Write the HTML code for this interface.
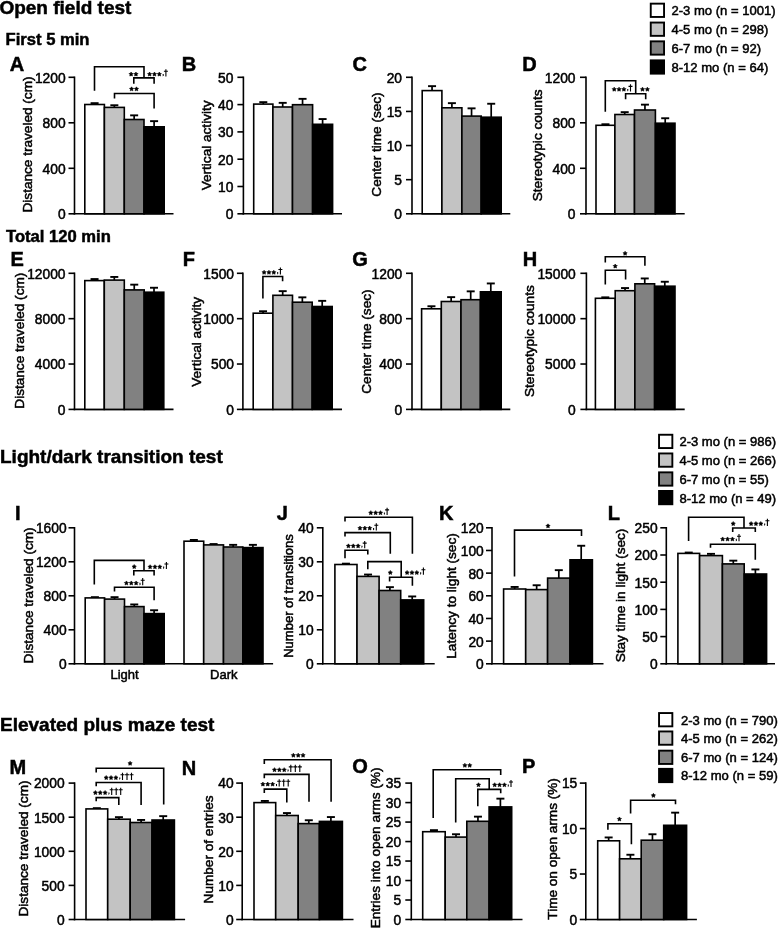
<!DOCTYPE html><html><head><meta charset="utf-8"><style>html,body{margin:0;padding:0;background:#fff;}svg{display:block;will-change:transform;}text{font-family:"Liberation Sans", sans-serif;}</style></head><body>
<svg width="778" height="928" viewBox="0 0 778 928">
<rect width="778" height="928" fill="#fff"/>
<text x="-0.6" y="14.3" font-size="19" font-weight="bold" text-anchor="start" fill="#000" stroke="#000" stroke-width="0.5" >Open field test</text>
<text x="5.6" y="44.8" font-size="16.6" font-weight="bold" text-anchor="start" fill="#000" stroke="#000" stroke-width="0.5" >First 5 min</text>
<text x="6" y="241.5" font-size="16.6" font-weight="bold" text-anchor="start" fill="#000" stroke="#000" stroke-width="0.5" >Total 120 min</text>
<text x="0" y="462.5" font-size="19" font-weight="bold" text-anchor="start" fill="#000" stroke="#000" stroke-width="0.5" >Light/dark transition test</text>
<text x="0" y="730.8" font-size="19" font-weight="bold" text-anchor="start" fill="#000" stroke="#000" stroke-width="0.5" >Elevated plus maze test</text>
<rect x="650.75" y="3.65" width="13.3" height="13.3" fill="#ffffff" stroke="#000" stroke-width="1.9"/>
<text x="671.5" y="15.2" font-size="13.05" font-weight="normal" text-anchor="start" fill="#000" stroke="#000" stroke-width="0.5" >2-3 mo (n = 1001)</text>
<rect x="650.75" y="22.55" width="13.3" height="13.3" fill="#c3c3c3" stroke="#000" stroke-width="1.9"/>
<text x="671.5" y="34.1" font-size="13.05" font-weight="normal" text-anchor="start" fill="#000" stroke="#000" stroke-width="0.5" >4-5 mo (n = 298)</text>
<rect x="650.75" y="41.35" width="13.3" height="13.3" fill="#818181" stroke="#000" stroke-width="1.9"/>
<text x="671.5" y="52.9" font-size="13.05" font-weight="normal" text-anchor="start" fill="#000" stroke="#000" stroke-width="0.5" >6-7 mo (n = 92)</text>
<rect x="650.75" y="60.35" width="13.3" height="13.3" fill="#000000" stroke="#000" stroke-width="1.9"/>
<text x="671.5" y="71.9" font-size="13.05" font-weight="normal" text-anchor="start" fill="#000" stroke="#000" stroke-width="0.5" >8-12 mo (n = 64)</text>
<rect x="659.05" y="434.75" width="13.3" height="13.3" fill="#ffffff" stroke="#000" stroke-width="1.9"/>
<text x="679.4" y="446.3" font-size="13.05" font-weight="normal" text-anchor="start" fill="#000" stroke="#000" stroke-width="0.5" >2-3 mo (n = 986)</text>
<rect x="659.05" y="453.45" width="13.3" height="13.3" fill="#c3c3c3" stroke="#000" stroke-width="1.9"/>
<text x="679.4" y="465" font-size="13.05" font-weight="normal" text-anchor="start" fill="#000" stroke="#000" stroke-width="0.5" >4-5 mo (n = 266)</text>
<rect x="659.05" y="472.35" width="13.3" height="13.3" fill="#818181" stroke="#000" stroke-width="1.9"/>
<text x="679.4" y="483.9" font-size="13.05" font-weight="normal" text-anchor="start" fill="#000" stroke="#000" stroke-width="0.5" >6-7 mo (n = 55)</text>
<rect x="659.05" y="490.95" width="13.3" height="13.3" fill="#000000" stroke="#000" stroke-width="1.9"/>
<text x="679.4" y="502.5" font-size="13.05" font-weight="normal" text-anchor="start" fill="#000" stroke="#000" stroke-width="0.5" >8-12 mo (n = 49)</text>
<rect x="659.05" y="713.05" width="13.3" height="13.3" fill="#ffffff" stroke="#000" stroke-width="1.9"/>
<text x="681" y="724.6" font-size="13.05" font-weight="normal" text-anchor="start" fill="#000" stroke="#000" stroke-width="0.5" >2-3 mo (n = 790)</text>
<rect x="659.05" y="731.45" width="13.3" height="13.3" fill="#c3c3c3" stroke="#000" stroke-width="1.9"/>
<text x="681" y="743" font-size="13.05" font-weight="normal" text-anchor="start" fill="#000" stroke="#000" stroke-width="0.5" >4-5 mo (n = 262)</text>
<rect x="659.05" y="750.65" width="13.3" height="13.3" fill="#818181" stroke="#000" stroke-width="1.9"/>
<text x="681" y="762.2" font-size="13.05" font-weight="normal" text-anchor="start" fill="#000" stroke="#000" stroke-width="0.5" >6-7 mo (n = 124)</text>
<rect x="659.05" y="768.85" width="13.3" height="13.3" fill="#000000" stroke="#000" stroke-width="1.9"/>
<text x="681" y="780.4" font-size="13.05" font-weight="normal" text-anchor="start" fill="#000" stroke="#000" stroke-width="0.5" >8-12 mo (n = 59)</text>
<text x="9.8" y="70.6" font-size="20" font-weight="bold" text-anchor="start" fill="#000" stroke="#000" stroke-width="0.5" >A</text>
<line x1="74.5" y1="76.5" x2="74.5" y2="214.6" stroke="#000" stroke-width="1.6"/>
<line x1="73.7" y1="213.8" x2="173.5" y2="213.8" stroke="#000" stroke-width="1.6"/>
<line x1="68.5" y1="213.8" x2="74.5" y2="213.8" stroke="#000" stroke-width="1.6"/>
<text x="65.6" y="219.17" font-size="13.8" font-weight="normal" text-anchor="end" fill="#000" stroke="#000" stroke-width="0.5" >0</text>
<line x1="68.5" y1="168.3" x2="74.5" y2="168.3" stroke="#000" stroke-width="1.6"/>
<text x="65.6" y="173.67" font-size="13.8" font-weight="normal" text-anchor="end" fill="#000" stroke="#000" stroke-width="0.5" >400</text>
<line x1="68.5" y1="122.8" x2="74.5" y2="122.8" stroke="#000" stroke-width="1.6"/>
<text x="65.6" y="128.17" font-size="13.8" font-weight="normal" text-anchor="end" fill="#000" stroke="#000" stroke-width="0.5" >800</text>
<line x1="68.5" y1="77.3" x2="74.5" y2="77.3" stroke="#000" stroke-width="1.6"/>
<text x="65.6" y="82.67" font-size="13.8" font-weight="normal" text-anchor="end" fill="#000" stroke="#000" stroke-width="0.5" >1200</text>
<text x="0" y="0" font-size="13.6" text-anchor="middle" stroke="#000" stroke-width="0.5" transform="translate(31.67,144.5) rotate(-90)">Distance traveled (cm)</text>
<line x1="94.6" y1="104.5" x2="94.6" y2="103.15" stroke="#000" stroke-width="1.7"/>
<line x1="90.6" y1="103.15" x2="98.6" y2="103.15" stroke="#000" stroke-width="1.9"/>
<rect x="84.8" y="104.5" width="19.6" height="109.3" fill="#ffffff" stroke="#000" stroke-width="1.6"/>
<line x1="114.35" y1="107.4" x2="114.35" y2="105.25" stroke="#000" stroke-width="1.7"/>
<line x1="110.35" y1="105.25" x2="118.35" y2="105.25" stroke="#000" stroke-width="1.9"/>
<rect x="104.4" y="107.4" width="19.9" height="106.4" fill="#c3c3c3" stroke="#000" stroke-width="1.6"/>
<line x1="134.15" y1="119.5" x2="134.15" y2="115.35" stroke="#000" stroke-width="1.7"/>
<line x1="130.15" y1="115.35" x2="138.15" y2="115.35" stroke="#000" stroke-width="1.9"/>
<rect x="124.3" y="119.5" width="19.7" height="94.3" fill="#818181" stroke="#000" stroke-width="1.6"/>
<line x1="154.1" y1="126.8" x2="154.1" y2="121.15" stroke="#000" stroke-width="1.7"/>
<line x1="150.1" y1="121.15" x2="158.1" y2="121.15" stroke="#000" stroke-width="1.9"/>
<rect x="144" y="126.8" width="20.2" height="87" fill="#000000" stroke="#000" stroke-width="1.6"/>
<polyline points="94.5,90.7 94.5,66.7 144,66.7 144,77.9" fill="none" stroke="#000" stroke-width="1.6" stroke-linejoin="miter" stroke-linecap="butt"/>
<polyline points="133.8,83.7 133.8,77.9 154.1,77.9 154.1,83.7" fill="none" stroke="#000" stroke-width="1.6" stroke-linejoin="miter" stroke-linecap="butt"/>
<polyline points="114.5,98.4 114.5,93.5 154.1,93.5 154.1,108.6" fill="none" stroke="#000" stroke-width="1.6" stroke-linejoin="miter" stroke-linecap="butt"/>
<polygon points="131.1,72.05 131.78,73.32 133.19,73.57 132.19,74.61 132.39,76.03 131.1,75.4 129.81,76.03 130.01,74.61 129.01,73.57 130.42,73.32" fill="#000" stroke="#000" stroke-width="0.6" stroke-linejoin="round"/>
<polygon points="135.95,72.05 136.63,73.32 138.04,73.57 137.04,74.61 137.24,76.03 135.95,75.4 134.66,76.03 134.86,74.61 133.86,73.57 135.27,73.32" fill="#000" stroke="#000" stroke-width="0.6" stroke-linejoin="round"/>
<polygon points="149.6,72.05 150.28,73.32 151.69,73.57 150.69,74.61 150.89,76.03 149.6,75.4 148.31,76.03 148.51,74.61 147.51,73.57 148.92,73.32" fill="#000" stroke="#000" stroke-width="0.6" stroke-linejoin="round"/>
<polygon points="154.45,72.05 155.13,73.32 156.54,73.57 155.54,74.61 155.74,76.03 154.45,75.4 153.16,76.03 153.36,74.61 152.36,73.57 153.77,73.32" fill="#000" stroke="#000" stroke-width="0.6" stroke-linejoin="round"/>
<polygon points="159.3,72.05 159.98,73.32 161.39,73.57 160.39,74.61 160.59,76.03 159.3,75.4 158.01,76.03 158.21,74.61 157.21,73.57 158.62,73.32" fill="#000" stroke="#000" stroke-width="0.6" stroke-linejoin="round"/>
<path d="M162.6,73.9h1.1v1.4l-0.9,1.2z" fill="#000"/>
<path d="M165.9,69.2V76.4M163.9,71.3H167.9" stroke="#000" stroke-width="1.1" fill="none"/>
<polygon points="131.6,86.85 132.28,88.12 133.69,88.37 132.69,89.41 132.89,90.83 131.6,90.2 130.31,90.83 130.51,89.41 129.51,88.37 130.92,88.12" fill="#000" stroke="#000" stroke-width="0.6" stroke-linejoin="round"/>
<polygon points="136.45,86.85 137.13,88.12 138.54,88.37 137.54,89.41 137.74,90.83 136.45,90.2 135.16,90.83 135.36,89.41 134.36,88.37 135.77,88.12" fill="#000" stroke="#000" stroke-width="0.6" stroke-linejoin="round"/>
<text x="181.8" y="70.6" font-size="20" font-weight="bold" text-anchor="start" fill="#000" stroke="#000" stroke-width="0.5" >B</text>
<line x1="243.4" y1="76.5" x2="243.4" y2="214.6" stroke="#000" stroke-width="1.6"/>
<line x1="242.6" y1="213.8" x2="342" y2="213.8" stroke="#000" stroke-width="1.6"/>
<line x1="237.4" y1="213.8" x2="243.4" y2="213.8" stroke="#000" stroke-width="1.6"/>
<text x="233.4" y="219.17" font-size="13.8" font-weight="normal" text-anchor="end" fill="#000" stroke="#000" stroke-width="0.5" >0</text>
<line x1="237.4" y1="186.5" x2="243.4" y2="186.5" stroke="#000" stroke-width="1.6"/>
<text x="233.4" y="191.87" font-size="13.8" font-weight="normal" text-anchor="end" fill="#000" stroke="#000" stroke-width="0.5" >10</text>
<line x1="237.4" y1="159.2" x2="243.4" y2="159.2" stroke="#000" stroke-width="1.6"/>
<text x="233.4" y="164.57" font-size="13.8" font-weight="normal" text-anchor="end" fill="#000" stroke="#000" stroke-width="0.5" >20</text>
<line x1="237.4" y1="131.9" x2="243.4" y2="131.9" stroke="#000" stroke-width="1.6"/>
<text x="233.4" y="137.27" font-size="13.8" font-weight="normal" text-anchor="end" fill="#000" stroke="#000" stroke-width="0.5" >30</text>
<line x1="237.4" y1="104.6" x2="243.4" y2="104.6" stroke="#000" stroke-width="1.6"/>
<text x="233.4" y="109.97" font-size="13.8" font-weight="normal" text-anchor="end" fill="#000" stroke="#000" stroke-width="0.5" >40</text>
<line x1="237.4" y1="77.3" x2="243.4" y2="77.3" stroke="#000" stroke-width="1.6"/>
<text x="233.4" y="82.67" font-size="13.8" font-weight="normal" text-anchor="end" fill="#000" stroke="#000" stroke-width="0.5" >50</text>
<text x="0" y="0" font-size="13.6" text-anchor="middle" stroke="#000" stroke-width="0.5" transform="translate(211.47,145.4) rotate(-90)">Vertical activity</text>
<line x1="263.3" y1="104.1" x2="263.3" y2="102.15" stroke="#000" stroke-width="1.7"/>
<line x1="259.3" y1="102.15" x2="267.3" y2="102.15" stroke="#000" stroke-width="1.9"/>
<rect x="253.7" y="104.1" width="19.2" height="109.7" fill="#ffffff" stroke="#000" stroke-width="1.6"/>
<line x1="282.7" y1="107" x2="282.7" y2="102.85" stroke="#000" stroke-width="1.7"/>
<line x1="278.7" y1="102.85" x2="286.7" y2="102.85" stroke="#000" stroke-width="1.9"/>
<rect x="272.9" y="107" width="19.6" height="106.8" fill="#c3c3c3" stroke="#000" stroke-width="1.6"/>
<line x1="302.55" y1="104.7" x2="302.55" y2="98.85" stroke="#000" stroke-width="1.7"/>
<line x1="298.55" y1="98.85" x2="306.55" y2="98.85" stroke="#000" stroke-width="1.9"/>
<rect x="292.5" y="104.7" width="20.1" height="109.1" fill="#818181" stroke="#000" stroke-width="1.6"/>
<line x1="322.6" y1="124.3" x2="322.6" y2="119.05" stroke="#000" stroke-width="1.7"/>
<line x1="318.6" y1="119.05" x2="326.6" y2="119.05" stroke="#000" stroke-width="1.9"/>
<rect x="312.6" y="124.3" width="20" height="89.5" fill="#000000" stroke="#000" stroke-width="1.6"/>
<text x="352.4" y="70.6" font-size="20" font-weight="bold" text-anchor="start" fill="#000" stroke="#000" stroke-width="0.5" >C</text>
<line x1="412" y1="76.5" x2="412" y2="214.6" stroke="#000" stroke-width="1.6"/>
<line x1="411.2" y1="213.8" x2="510.3" y2="213.8" stroke="#000" stroke-width="1.6"/>
<line x1="406" y1="213.8" x2="412" y2="213.8" stroke="#000" stroke-width="1.6"/>
<text x="402" y="219.17" font-size="13.8" font-weight="normal" text-anchor="end" fill="#000" stroke="#000" stroke-width="0.5" >0</text>
<line x1="406" y1="179.68" x2="412" y2="179.68" stroke="#000" stroke-width="1.6"/>
<text x="402" y="185.04" font-size="13.8" font-weight="normal" text-anchor="end" fill="#000" stroke="#000" stroke-width="0.5" >5</text>
<line x1="406" y1="145.55" x2="412" y2="145.55" stroke="#000" stroke-width="1.6"/>
<text x="402" y="150.92" font-size="13.8" font-weight="normal" text-anchor="end" fill="#000" stroke="#000" stroke-width="0.5" >10</text>
<line x1="406" y1="111.43" x2="412" y2="111.43" stroke="#000" stroke-width="1.6"/>
<text x="402" y="116.79" font-size="13.8" font-weight="normal" text-anchor="end" fill="#000" stroke="#000" stroke-width="0.5" >15</text>
<line x1="406" y1="77.3" x2="412" y2="77.3" stroke="#000" stroke-width="1.6"/>
<text x="402" y="82.67" font-size="13.8" font-weight="normal" text-anchor="end" fill="#000" stroke="#000" stroke-width="0.5" >20</text>
<text x="0" y="0" font-size="13.6" text-anchor="middle" stroke="#000" stroke-width="0.5" transform="translate(381.47,144.5) rotate(-90)">Center time (sec)</text>
<line x1="432.05" y1="90.6" x2="432.05" y2="86.15" stroke="#000" stroke-width="1.7"/>
<line x1="428.05" y1="86.15" x2="436.05" y2="86.15" stroke="#000" stroke-width="1.9"/>
<rect x="422.2" y="90.6" width="19.7" height="123.2" fill="#ffffff" stroke="#000" stroke-width="1.6"/>
<line x1="451.9" y1="107.8" x2="451.9" y2="103.15" stroke="#000" stroke-width="1.7"/>
<line x1="447.9" y1="103.15" x2="455.9" y2="103.15" stroke="#000" stroke-width="1.9"/>
<rect x="441.9" y="107.8" width="20" height="106" fill="#c3c3c3" stroke="#000" stroke-width="1.6"/>
<line x1="471.55" y1="116.1" x2="471.55" y2="108.35" stroke="#000" stroke-width="1.7"/>
<line x1="467.55" y1="108.35" x2="475.55" y2="108.35" stroke="#000" stroke-width="1.9"/>
<rect x="461.9" y="116.1" width="19.3" height="97.7" fill="#818181" stroke="#000" stroke-width="1.6"/>
<line x1="491.2" y1="117.2" x2="491.2" y2="103.75" stroke="#000" stroke-width="1.7"/>
<line x1="487.2" y1="103.75" x2="495.2" y2="103.75" stroke="#000" stroke-width="1.9"/>
<rect x="481.2" y="117.2" width="20" height="96.6" fill="#000000" stroke="#000" stroke-width="1.6"/>
<text x="522.3" y="70.6" font-size="20" font-weight="bold" text-anchor="start" fill="#000" stroke="#000" stroke-width="0.5" >D</text>
<line x1="586" y1="76.5" x2="586" y2="214.6" stroke="#000" stroke-width="1.6"/>
<line x1="585.2" y1="213.8" x2="684.7" y2="213.8" stroke="#000" stroke-width="1.6"/>
<line x1="580" y1="213.8" x2="586" y2="213.8" stroke="#000" stroke-width="1.6"/>
<text x="575.5" y="219.17" font-size="13.8" font-weight="normal" text-anchor="end" fill="#000" stroke="#000" stroke-width="0.5" >0</text>
<line x1="580" y1="168.3" x2="586" y2="168.3" stroke="#000" stroke-width="1.6"/>
<text x="575.5" y="173.67" font-size="13.8" font-weight="normal" text-anchor="end" fill="#000" stroke="#000" stroke-width="0.5" >400</text>
<line x1="580" y1="122.8" x2="586" y2="122.8" stroke="#000" stroke-width="1.6"/>
<text x="575.5" y="128.17" font-size="13.8" font-weight="normal" text-anchor="end" fill="#000" stroke="#000" stroke-width="0.5" >800</text>
<line x1="580" y1="77.3" x2="586" y2="77.3" stroke="#000" stroke-width="1.6"/>
<text x="575.5" y="82.67" font-size="13.8" font-weight="normal" text-anchor="end" fill="#000" stroke="#000" stroke-width="0.5" >1200</text>
<text x="0" y="0" font-size="13.6" text-anchor="middle" stroke="#000" stroke-width="0.5" transform="translate(541.67,145.4) rotate(-90)">Stereotypic counts</text>
<line x1="605.45" y1="125.3" x2="605.45" y2="124.25" stroke="#000" stroke-width="1.7"/>
<line x1="601.45" y1="124.25" x2="609.45" y2="124.25" stroke="#000" stroke-width="1.9"/>
<rect x="596" y="125.3" width="18.9" height="88.5" fill="#ffffff" stroke="#000" stroke-width="1.6"/>
<line x1="624.7" y1="114.5" x2="624.7" y2="112.15" stroke="#000" stroke-width="1.7"/>
<line x1="620.7" y1="112.15" x2="628.7" y2="112.15" stroke="#000" stroke-width="1.9"/>
<rect x="614.9" y="114.5" width="19.6" height="99.3" fill="#c3c3c3" stroke="#000" stroke-width="1.6"/>
<line x1="644.95" y1="110" x2="644.95" y2="104.65" stroke="#000" stroke-width="1.7"/>
<line x1="640.95" y1="104.65" x2="648.95" y2="104.65" stroke="#000" stroke-width="1.9"/>
<rect x="634.5" y="110" width="20.9" height="103.8" fill="#818181" stroke="#000" stroke-width="1.6"/>
<line x1="665.2" y1="123.2" x2="665.2" y2="118.25" stroke="#000" stroke-width="1.7"/>
<line x1="661.2" y1="118.25" x2="669.2" y2="118.25" stroke="#000" stroke-width="1.9"/>
<rect x="655.4" y="123.2" width="19.6" height="90.6" fill="#000000" stroke="#000" stroke-width="1.6"/>
<polyline points="605.3,111.8 605.3,80.8 635.7,80.8 635.7,93.8" fill="none" stroke="#000" stroke-width="1.6" stroke-linejoin="miter" stroke-linecap="butt"/>
<polyline points="625.6,99.2 625.6,93.8 645.7,93.8 645.7,99.2" fill="none" stroke="#000" stroke-width="1.6" stroke-linejoin="miter" stroke-linecap="butt"/>
<polygon points="614.2,87.15 614.88,88.42 616.29,88.67 615.29,89.71 615.49,91.13 614.2,90.5 612.91,91.13 613.11,89.71 612.11,88.67 613.52,88.42" fill="#000" stroke="#000" stroke-width="0.6" stroke-linejoin="round"/>
<polygon points="619.05,87.15 619.73,88.42 621.14,88.67 620.14,89.71 620.34,91.13 619.05,90.5 617.76,91.13 617.96,89.71 616.96,88.67 618.37,88.42" fill="#000" stroke="#000" stroke-width="0.6" stroke-linejoin="round"/>
<polygon points="623.9,87.15 624.58,88.42 625.99,88.67 624.99,89.71 625.19,91.13 623.9,90.5 622.61,91.13 622.81,89.71 621.81,88.67 623.22,88.42" fill="#000" stroke="#000" stroke-width="0.6" stroke-linejoin="round"/>
<path d="M627.2,89h1.1v1.4l-0.9,1.2z" fill="#000"/>
<path d="M630.5,84.3V91.5M628.5,86.4H632.5" stroke="#000" stroke-width="1.1" fill="none"/>
<polygon points="642.5,87.15 643.18,88.42 644.59,88.67 643.59,89.71 643.79,91.13 642.5,90.5 641.21,91.13 641.41,89.71 640.41,88.67 641.82,88.42" fill="#000" stroke="#000" stroke-width="0.6" stroke-linejoin="round"/>
<polygon points="647.35,87.15 648.03,88.42 649.44,88.67 648.44,89.71 648.64,91.13 647.35,90.5 646.06,91.13 646.26,89.71 645.26,88.67 646.67,88.42" fill="#000" stroke="#000" stroke-width="0.6" stroke-linejoin="round"/>
<text x="10.6" y="265.6" font-size="20" font-weight="bold" text-anchor="start" fill="#000" stroke="#000" stroke-width="0.5" >E</text>
<line x1="74.5" y1="272.5" x2="74.5" y2="410.2" stroke="#000" stroke-width="1.6"/>
<line x1="73.7" y1="409.4" x2="173.5" y2="409.4" stroke="#000" stroke-width="1.6"/>
<line x1="68.5" y1="409.4" x2="74.5" y2="409.4" stroke="#000" stroke-width="1.6"/>
<text x="65.5" y="414.77" font-size="13.8" font-weight="normal" text-anchor="end" fill="#000" stroke="#000" stroke-width="0.5" >0</text>
<line x1="68.5" y1="364.03" x2="74.5" y2="364.03" stroke="#000" stroke-width="1.6"/>
<text x="65.5" y="369.4" font-size="13.8" font-weight="normal" text-anchor="end" fill="#000" stroke="#000" stroke-width="0.5" >4000</text>
<line x1="68.5" y1="318.67" x2="74.5" y2="318.67" stroke="#000" stroke-width="1.6"/>
<text x="65.5" y="324.03" font-size="13.8" font-weight="normal" text-anchor="end" fill="#000" stroke="#000" stroke-width="0.5" >8000</text>
<line x1="68.5" y1="273.3" x2="74.5" y2="273.3" stroke="#000" stroke-width="1.6"/>
<text x="65.5" y="278.67" font-size="13.8" font-weight="normal" text-anchor="end" fill="#000" stroke="#000" stroke-width="0.5" >12000</text>
<text x="0" y="0" font-size="13.6" text-anchor="middle" stroke="#000" stroke-width="0.5" transform="translate(24.37,340.7) rotate(-90)">Distance traveled (cm)</text>
<line x1="94.55" y1="280.6" x2="94.55" y2="279.05" stroke="#000" stroke-width="1.7"/>
<line x1="90.55" y1="279.05" x2="98.55" y2="279.05" stroke="#000" stroke-width="1.9"/>
<rect x="84.8" y="280.6" width="19.5" height="128.8" fill="#ffffff" stroke="#000" stroke-width="1.6"/>
<line x1="114.3" y1="280.1" x2="114.3" y2="276.95" stroke="#000" stroke-width="1.7"/>
<line x1="110.3" y1="276.95" x2="118.3" y2="276.95" stroke="#000" stroke-width="1.9"/>
<rect x="104.3" y="280.1" width="20" height="129.3" fill="#c3c3c3" stroke="#000" stroke-width="1.6"/>
<line x1="134.25" y1="289.9" x2="134.25" y2="284.65" stroke="#000" stroke-width="1.7"/>
<line x1="130.25" y1="284.65" x2="138.25" y2="284.65" stroke="#000" stroke-width="1.9"/>
<rect x="124.3" y="289.9" width="19.9" height="119.5" fill="#818181" stroke="#000" stroke-width="1.6"/>
<line x1="154" y1="292.2" x2="154" y2="287.75" stroke="#000" stroke-width="1.7"/>
<line x1="150" y1="287.75" x2="158" y2="287.75" stroke="#000" stroke-width="1.9"/>
<rect x="144.2" y="292.2" width="19.6" height="117.2" fill="#000000" stroke="#000" stroke-width="1.6"/>
<text x="182.8" y="265.6" font-size="20" font-weight="bold" text-anchor="start" fill="#000" stroke="#000" stroke-width="0.5" >F</text>
<line x1="242.9" y1="272.5" x2="242.9" y2="410.2" stroke="#000" stroke-width="1.6"/>
<line x1="242.1" y1="409.4" x2="342" y2="409.4" stroke="#000" stroke-width="1.6"/>
<line x1="236.9" y1="409.4" x2="242.9" y2="409.4" stroke="#000" stroke-width="1.6"/>
<text x="234" y="414.77" font-size="13.8" font-weight="normal" text-anchor="end" fill="#000" stroke="#000" stroke-width="0.5" >0</text>
<line x1="236.9" y1="364.03" x2="242.9" y2="364.03" stroke="#000" stroke-width="1.6"/>
<text x="234" y="369.4" font-size="13.8" font-weight="normal" text-anchor="end" fill="#000" stroke="#000" stroke-width="0.5" >500</text>
<line x1="236.9" y1="318.67" x2="242.9" y2="318.67" stroke="#000" stroke-width="1.6"/>
<text x="234" y="324.03" font-size="13.8" font-weight="normal" text-anchor="end" fill="#000" stroke="#000" stroke-width="0.5" >1000</text>
<line x1="236.9" y1="273.3" x2="242.9" y2="273.3" stroke="#000" stroke-width="1.6"/>
<text x="234" y="278.67" font-size="13.8" font-weight="normal" text-anchor="end" fill="#000" stroke="#000" stroke-width="0.5" >1500</text>
<text x="0" y="0" font-size="13.6" text-anchor="middle" stroke="#000" stroke-width="0.5" transform="translate(201.07,341.8) rotate(-90)">Vertical activity</text>
<line x1="263.05" y1="313.2" x2="263.05" y2="311.25" stroke="#000" stroke-width="1.7"/>
<line x1="259.05" y1="311.25" x2="267.05" y2="311.25" stroke="#000" stroke-width="1.9"/>
<rect x="253.2" y="313.2" width="19.7" height="96.2" fill="#ffffff" stroke="#000" stroke-width="1.6"/>
<line x1="282.7" y1="295.3" x2="282.7" y2="291.15" stroke="#000" stroke-width="1.7"/>
<line x1="278.7" y1="291.15" x2="286.7" y2="291.15" stroke="#000" stroke-width="1.9"/>
<rect x="272.9" y="295.3" width="19.6" height="114.1" fill="#c3c3c3" stroke="#000" stroke-width="1.6"/>
<line x1="302.35" y1="302.2" x2="302.35" y2="297.35" stroke="#000" stroke-width="1.7"/>
<line x1="298.35" y1="297.35" x2="306.35" y2="297.35" stroke="#000" stroke-width="1.9"/>
<rect x="292.5" y="302.2" width="19.7" height="107.2" fill="#818181" stroke="#000" stroke-width="1.6"/>
<line x1="322.2" y1="306.5" x2="322.2" y2="300.85" stroke="#000" stroke-width="1.7"/>
<line x1="318.2" y1="300.85" x2="326.2" y2="300.85" stroke="#000" stroke-width="1.9"/>
<rect x="312.2" y="306.5" width="20" height="102.9" fill="#000000" stroke="#000" stroke-width="1.6"/>
<polyline points="262.9,298.6 262.9,276.5 282.6,276.5 282.6,281.3" fill="none" stroke="#000" stroke-width="1.6" stroke-linejoin="miter" stroke-linecap="butt"/>
<polygon points="264.1,270.25 264.78,271.52 266.19,271.77 265.19,272.81 265.39,274.23 264.1,273.6 262.81,274.23 263.01,272.81 262.01,271.77 263.42,271.52" fill="#000" stroke="#000" stroke-width="0.6" stroke-linejoin="round"/>
<polygon points="268.95,270.25 269.63,271.52 271.04,271.77 270.04,272.81 270.24,274.23 268.95,273.6 267.66,274.23 267.86,272.81 266.86,271.77 268.27,271.52" fill="#000" stroke="#000" stroke-width="0.6" stroke-linejoin="round"/>
<polygon points="273.8,270.25 274.48,271.52 275.89,271.77 274.89,272.81 275.09,274.23 273.8,273.6 272.51,274.23 272.71,272.81 271.71,271.77 273.12,271.52" fill="#000" stroke="#000" stroke-width="0.6" stroke-linejoin="round"/>
<path d="M277.1,272.1h1.1v1.4l-0.9,1.2z" fill="#000"/>
<path d="M280.4,267.4V274.6M278.4,269.5H282.4" stroke="#000" stroke-width="1.1" fill="none"/>
<text x="352.2" y="265.6" font-size="20" font-weight="bold" text-anchor="start" fill="#000" stroke="#000" stroke-width="0.5" >G</text>
<line x1="412" y1="272.5" x2="412" y2="410.2" stroke="#000" stroke-width="1.6"/>
<line x1="411.2" y1="409.4" x2="510.3" y2="409.4" stroke="#000" stroke-width="1.6"/>
<line x1="406" y1="409.4" x2="412" y2="409.4" stroke="#000" stroke-width="1.6"/>
<text x="402.3" y="414.77" font-size="13.8" font-weight="normal" text-anchor="end" fill="#000" stroke="#000" stroke-width="0.5" >0</text>
<line x1="406" y1="364.03" x2="412" y2="364.03" stroke="#000" stroke-width="1.6"/>
<text x="402.3" y="369.4" font-size="13.8" font-weight="normal" text-anchor="end" fill="#000" stroke="#000" stroke-width="0.5" >400</text>
<line x1="406" y1="318.67" x2="412" y2="318.67" stroke="#000" stroke-width="1.6"/>
<text x="402.3" y="324.03" font-size="13.8" font-weight="normal" text-anchor="end" fill="#000" stroke="#000" stroke-width="0.5" >800</text>
<line x1="406" y1="273.3" x2="412" y2="273.3" stroke="#000" stroke-width="1.6"/>
<text x="402.3" y="278.67" font-size="13.8" font-weight="normal" text-anchor="end" fill="#000" stroke="#000" stroke-width="0.5" >1200</text>
<text x="0" y="0" font-size="13.6" text-anchor="middle" stroke="#000" stroke-width="0.5" transform="translate(371.07,341.6) rotate(-90)">Center time (sec)</text>
<line x1="431.45" y1="308.8" x2="431.45" y2="306.25" stroke="#000" stroke-width="1.7"/>
<line x1="427.45" y1="306.25" x2="435.45" y2="306.25" stroke="#000" stroke-width="1.9"/>
<rect x="421.6" y="308.8" width="19.7" height="100.6" fill="#ffffff" stroke="#000" stroke-width="1.6"/>
<line x1="451.15" y1="301.5" x2="451.15" y2="297.15" stroke="#000" stroke-width="1.7"/>
<line x1="447.15" y1="297.15" x2="455.15" y2="297.15" stroke="#000" stroke-width="1.9"/>
<rect x="441.3" y="301.5" width="19.7" height="107.9" fill="#c3c3c3" stroke="#000" stroke-width="1.6"/>
<line x1="470.7" y1="299.7" x2="470.7" y2="291.35" stroke="#000" stroke-width="1.7"/>
<line x1="466.7" y1="291.35" x2="474.7" y2="291.35" stroke="#000" stroke-width="1.9"/>
<rect x="461" y="299.7" width="19.4" height="109.7" fill="#818181" stroke="#000" stroke-width="1.6"/>
<line x1="490.8" y1="291.8" x2="490.8" y2="283.45" stroke="#000" stroke-width="1.7"/>
<line x1="486.8" y1="283.45" x2="494.8" y2="283.45" stroke="#000" stroke-width="1.9"/>
<rect x="480.4" y="291.8" width="20.8" height="117.6" fill="#000000" stroke="#000" stroke-width="1.6"/>
<text x="522.8" y="265.6" font-size="20" font-weight="bold" text-anchor="start" fill="#000" stroke="#000" stroke-width="0.5" >H</text>
<line x1="586.4" y1="272.5" x2="586.4" y2="410.2" stroke="#000" stroke-width="1.6"/>
<line x1="585.6" y1="409.4" x2="684.7" y2="409.4" stroke="#000" stroke-width="1.6"/>
<line x1="580.4" y1="409.4" x2="586.4" y2="409.4" stroke="#000" stroke-width="1.6"/>
<text x="575.8" y="414.77" font-size="13.8" font-weight="normal" text-anchor="end" fill="#000" stroke="#000" stroke-width="0.5" >0</text>
<line x1="580.4" y1="364.03" x2="586.4" y2="364.03" stroke="#000" stroke-width="1.6"/>
<text x="575.8" y="369.4" font-size="13.8" font-weight="normal" text-anchor="end" fill="#000" stroke="#000" stroke-width="0.5" >5000</text>
<line x1="580.4" y1="318.67" x2="586.4" y2="318.67" stroke="#000" stroke-width="1.6"/>
<text x="575.8" y="324.03" font-size="13.8" font-weight="normal" text-anchor="end" fill="#000" stroke="#000" stroke-width="0.5" >10000</text>
<line x1="580.4" y1="273.3" x2="586.4" y2="273.3" stroke="#000" stroke-width="1.6"/>
<text x="575.8" y="278.67" font-size="13.8" font-weight="normal" text-anchor="end" fill="#000" stroke="#000" stroke-width="0.5" >15000</text>
<text x="0" y="0" font-size="13.6" text-anchor="middle" stroke="#000" stroke-width="0.5" transform="translate(534.07,341.2) rotate(-90)">Stereotypic counts</text>
<line x1="605.3" y1="298.3" x2="605.3" y2="297.35" stroke="#000" stroke-width="1.7"/>
<line x1="601.3" y1="297.35" x2="609.3" y2="297.35" stroke="#000" stroke-width="1.9"/>
<rect x="595.4" y="298.3" width="19.8" height="111.1" fill="#ffffff" stroke="#000" stroke-width="1.6"/>
<line x1="625.05" y1="290.7" x2="625.05" y2="288.05" stroke="#000" stroke-width="1.7"/>
<line x1="621.05" y1="288.05" x2="629.05" y2="288.05" stroke="#000" stroke-width="1.9"/>
<rect x="615.2" y="290.7" width="19.7" height="118.7" fill="#c3c3c3" stroke="#000" stroke-width="1.6"/>
<line x1="644.75" y1="283.8" x2="644.75" y2="278.45" stroke="#000" stroke-width="1.7"/>
<line x1="640.75" y1="278.45" x2="648.75" y2="278.45" stroke="#000" stroke-width="1.9"/>
<rect x="634.9" y="283.8" width="19.7" height="125.6" fill="#818181" stroke="#000" stroke-width="1.6"/>
<line x1="664.8" y1="286.2" x2="664.8" y2="281.75" stroke="#000" stroke-width="1.7"/>
<line x1="660.8" y1="281.75" x2="668.8" y2="281.75" stroke="#000" stroke-width="1.9"/>
<rect x="654.6" y="286.2" width="20.4" height="123.2" fill="#000000" stroke="#000" stroke-width="1.6"/>
<polyline points="605.3,262.5 605.3,256.7 644.9,256.7 644.9,265.7" fill="none" stroke="#000" stroke-width="1.6" stroke-linejoin="miter" stroke-linecap="butt"/>
<polyline points="605.3,284.6 605.3,270.2 625.6,270.2 625.6,279.5" fill="none" stroke="#000" stroke-width="1.6" stroke-linejoin="miter" stroke-linecap="butt"/>
<polygon points="625.1,251.25 625.78,252.52 627.19,252.77 626.19,253.81 626.39,255.23 625.1,254.6 623.81,255.23 624.01,253.81 623.01,252.77 624.42,252.52" fill="#000" stroke="#000" stroke-width="0.6" stroke-linejoin="round"/>
<polygon points="615.2,264.05 615.88,265.32 617.29,265.57 616.29,266.61 616.49,268.03 615.2,267.4 613.91,268.03 614.11,266.61 613.11,265.57 614.52,265.32" fill="#000" stroke="#000" stroke-width="0.6" stroke-linejoin="round"/>
<text x="15" y="520.2" font-size="20" font-weight="bold" text-anchor="start" fill="#000" stroke="#000" stroke-width="0.5" >I</text>
<line x1="74.5" y1="527" x2="74.5" y2="664.6" stroke="#000" stroke-width="1.6"/>
<line x1="73.7" y1="663.8" x2="273.1" y2="663.8" stroke="#000" stroke-width="1.6"/>
<line x1="68.5" y1="663.8" x2="74.5" y2="663.8" stroke="#000" stroke-width="1.6"/>
<text x="66.6" y="669.17" font-size="13.8" font-weight="normal" text-anchor="end" fill="#000" stroke="#000" stroke-width="0.5" >0</text>
<line x1="68.5" y1="629.8" x2="74.5" y2="629.8" stroke="#000" stroke-width="1.6"/>
<text x="66.6" y="635.17" font-size="13.8" font-weight="normal" text-anchor="end" fill="#000" stroke="#000" stroke-width="0.5" >400</text>
<line x1="68.5" y1="595.8" x2="74.5" y2="595.8" stroke="#000" stroke-width="1.6"/>
<text x="66.6" y="601.17" font-size="13.8" font-weight="normal" text-anchor="end" fill="#000" stroke="#000" stroke-width="0.5" >800</text>
<line x1="68.5" y1="561.8" x2="74.5" y2="561.8" stroke="#000" stroke-width="1.6"/>
<text x="66.6" y="567.17" font-size="13.8" font-weight="normal" text-anchor="end" fill="#000" stroke="#000" stroke-width="0.5" >1200</text>
<line x1="68.5" y1="527.8" x2="74.5" y2="527.8" stroke="#000" stroke-width="1.6"/>
<text x="66.6" y="533.17" font-size="13.8" font-weight="normal" text-anchor="end" fill="#000" stroke="#000" stroke-width="0.5" >1600</text>
<text x="0" y="0" font-size="13.6" text-anchor="middle" stroke="#000" stroke-width="0.5" transform="translate(32.87,595.4) rotate(-90)">Distance traveled (cm)</text>
<line x1="94.9" y1="597.9" x2="94.9" y2="597.15" stroke="#000" stroke-width="1.7"/>
<line x1="90.9" y1="597.15" x2="98.9" y2="597.15" stroke="#000" stroke-width="1.9"/>
<rect x="85.2" y="597.9" width="19.4" height="65.9" fill="#ffffff" stroke="#000" stroke-width="1.6"/>
<line x1="114.55" y1="599.1" x2="114.55" y2="597.15" stroke="#000" stroke-width="1.7"/>
<line x1="110.55" y1="597.15" x2="118.55" y2="597.15" stroke="#000" stroke-width="1.9"/>
<rect x="104.6" y="599.1" width="19.9" height="64.7" fill="#c3c3c3" stroke="#000" stroke-width="1.6"/>
<line x1="134.25" y1="606.6" x2="134.25" y2="604.45" stroke="#000" stroke-width="1.7"/>
<line x1="130.25" y1="604.45" x2="138.25" y2="604.45" stroke="#000" stroke-width="1.9"/>
<rect x="124.5" y="606.6" width="19.5" height="57.2" fill="#818181" stroke="#000" stroke-width="1.6"/>
<line x1="154.1" y1="613.6" x2="154.1" y2="610.25" stroke="#000" stroke-width="1.7"/>
<line x1="150.1" y1="610.25" x2="158.1" y2="610.25" stroke="#000" stroke-width="1.9"/>
<rect x="144" y="613.6" width="20.2" height="50.2" fill="#000000" stroke="#000" stroke-width="1.6"/>
<line x1="193.85" y1="541.2" x2="193.85" y2="539.95" stroke="#000" stroke-width="1.7"/>
<line x1="189.85" y1="539.95" x2="197.85" y2="539.95" stroke="#000" stroke-width="1.9"/>
<rect x="184" y="541.2" width="19.7" height="122.6" fill="#ffffff" stroke="#000" stroke-width="1.6"/>
<line x1="213.6" y1="544.9" x2="213.6" y2="544.05" stroke="#000" stroke-width="1.7"/>
<line x1="209.6" y1="544.05" x2="217.6" y2="544.05" stroke="#000" stroke-width="1.9"/>
<rect x="203.7" y="544.9" width="19.8" height="118.9" fill="#c3c3c3" stroke="#000" stroke-width="1.6"/>
<line x1="233.15" y1="547" x2="233.15" y2="544.85" stroke="#000" stroke-width="1.7"/>
<line x1="229.15" y1="544.85" x2="237.15" y2="544.85" stroke="#000" stroke-width="1.9"/>
<rect x="223.5" y="547" width="19.3" height="116.8" fill="#818181" stroke="#000" stroke-width="1.6"/>
<line x1="252.9" y1="547.6" x2="252.9" y2="544.85" stroke="#000" stroke-width="1.7"/>
<line x1="248.9" y1="544.85" x2="256.9" y2="544.85" stroke="#000" stroke-width="1.9"/>
<rect x="242.8" y="547.6" width="20.2" height="116.2" fill="#000000" stroke="#000" stroke-width="1.6"/>
<text x="124.6" y="679.2" font-size="13" font-weight="normal" text-anchor="middle" fill="#000" stroke="#000" stroke-width="0.5" >Light</text>
<text x="223.8" y="679.2" font-size="13" font-weight="normal" text-anchor="middle" fill="#000" stroke="#000" stroke-width="0.5" >Dark</text>
<polyline points="94.3,584.5 94.3,560.4 144,560.4 144,570.8" fill="none" stroke="#000" stroke-width="1.6" stroke-linejoin="miter" stroke-linecap="butt"/>
<polyline points="133.8,575.5 133.8,570.8 154.1,570.8 154.1,575.5" fill="none" stroke="#000" stroke-width="1.6" stroke-linejoin="miter" stroke-linecap="butt"/>
<polyline points="114.5,591.4 114.5,587.3 154.1,587.3 154.1,600.3" fill="none" stroke="#000" stroke-width="1.6" stroke-linejoin="miter" stroke-linecap="butt"/>
<polygon points="134.2,564.55 134.88,565.82 136.29,566.07 135.29,567.11 135.49,568.53 134.2,567.9 132.91,568.53 133.11,567.11 132.11,566.07 133.52,565.82" fill="#000" stroke="#000" stroke-width="0.6" stroke-linejoin="round"/>
<polygon points="150.1,564.75 150.78,566.02 152.19,566.27 151.19,567.31 151.39,568.73 150.1,568.1 148.81,568.73 149.01,567.31 148.01,566.27 149.42,566.02" fill="#000" stroke="#000" stroke-width="0.6" stroke-linejoin="round"/>
<polygon points="154.95,564.75 155.63,566.02 157.04,566.27 156.04,567.31 156.24,568.73 154.95,568.1 153.66,568.73 153.86,567.31 152.86,566.27 154.27,566.02" fill="#000" stroke="#000" stroke-width="0.6" stroke-linejoin="round"/>
<polygon points="159.8,564.75 160.48,566.02 161.89,566.27 160.89,567.31 161.09,568.73 159.8,568.1 158.51,568.73 158.71,567.31 157.71,566.27 159.12,566.02" fill="#000" stroke="#000" stroke-width="0.6" stroke-linejoin="round"/>
<path d="M163.1,566.6h1.1v1.4l-0.9,1.2z" fill="#000"/>
<path d="M166.4,561.9V569.1M164.4,564H168.4" stroke="#000" stroke-width="1.1" fill="none"/>
<polygon points="126.4,580.95 127.08,582.22 128.49,582.47 127.49,583.51 127.69,584.93 126.4,584.3 125.11,584.93 125.31,583.51 124.31,582.47 125.72,582.22" fill="#000" stroke="#000" stroke-width="0.6" stroke-linejoin="round"/>
<polygon points="131.25,580.95 131.93,582.22 133.34,582.47 132.34,583.51 132.54,584.93 131.25,584.3 129.96,584.93 130.16,583.51 129.16,582.47 130.57,582.22" fill="#000" stroke="#000" stroke-width="0.6" stroke-linejoin="round"/>
<polygon points="136.1,580.95 136.78,582.22 138.19,582.47 137.19,583.51 137.39,584.93 136.1,584.3 134.81,584.93 135.01,583.51 134.01,582.47 135.42,582.22" fill="#000" stroke="#000" stroke-width="0.6" stroke-linejoin="round"/>
<path d="M139.4,582.8h1.1v1.4l-0.9,1.2z" fill="#000"/>
<path d="M142.7,578.1V585.3M140.7,580.2H144.7" stroke="#000" stroke-width="1.1" fill="none"/>
<text x="276.8" y="519.6" font-size="20" font-weight="bold" text-anchor="start" fill="#000" stroke="#000" stroke-width="0.5" >J</text>
<rect x="279.8" y="504.5" width="3.5" height="4.7" fill="#fff"/>
<line x1="322.8" y1="527" x2="322.8" y2="664.6" stroke="#000" stroke-width="1.6"/>
<line x1="322" y1="663.8" x2="434.7" y2="663.8" stroke="#000" stroke-width="1.6"/>
<line x1="316.8" y1="663.8" x2="322.8" y2="663.8" stroke="#000" stroke-width="1.6"/>
<text x="313.7" y="669.17" font-size="13.8" font-weight="normal" text-anchor="end" fill="#000" stroke="#000" stroke-width="0.5" >0</text>
<line x1="316.8" y1="629.8" x2="322.8" y2="629.8" stroke="#000" stroke-width="1.6"/>
<text x="313.7" y="635.17" font-size="13.8" font-weight="normal" text-anchor="end" fill="#000" stroke="#000" stroke-width="0.5" >10</text>
<line x1="316.8" y1="595.8" x2="322.8" y2="595.8" stroke="#000" stroke-width="1.6"/>
<text x="313.7" y="601.17" font-size="13.8" font-weight="normal" text-anchor="end" fill="#000" stroke="#000" stroke-width="0.5" >20</text>
<line x1="316.8" y1="561.8" x2="322.8" y2="561.8" stroke="#000" stroke-width="1.6"/>
<text x="313.7" y="567.17" font-size="13.8" font-weight="normal" text-anchor="end" fill="#000" stroke="#000" stroke-width="0.5" >30</text>
<line x1="316.8" y1="527.8" x2="322.8" y2="527.8" stroke="#000" stroke-width="1.6"/>
<text x="313.7" y="533.17" font-size="13.8" font-weight="normal" text-anchor="end" fill="#000" stroke="#000" stroke-width="0.5" >40</text>
<text x="0" y="0" font-size="13" text-anchor="middle" stroke="#000" stroke-width="0.5" transform="translate(293.21,596) rotate(-90)">Number of transitions</text>
<line x1="345.95" y1="564.5" x2="345.95" y2="563.65" stroke="#000" stroke-width="1.7"/>
<line x1="341.95" y1="563.65" x2="349.95" y2="563.65" stroke="#000" stroke-width="1.9"/>
<rect x="334.9" y="564.5" width="22.1" height="99.3" fill="#ffffff" stroke="#000" stroke-width="1.6"/>
<line x1="368.05" y1="576.4" x2="368.05" y2="574.55" stroke="#000" stroke-width="1.7"/>
<line x1="364.05" y1="574.55" x2="372.05" y2="574.55" stroke="#000" stroke-width="1.9"/>
<rect x="357" y="576.4" width="22.1" height="87.4" fill="#c3c3c3" stroke="#000" stroke-width="1.6"/>
<line x1="389.9" y1="590.5" x2="389.9" y2="587.15" stroke="#000" stroke-width="1.7"/>
<line x1="385.9" y1="587.15" x2="393.9" y2="587.15" stroke="#000" stroke-width="1.9"/>
<rect x="379.1" y="590.5" width="21.6" height="73.3" fill="#818181" stroke="#000" stroke-width="1.6"/>
<line x1="412.2" y1="599.9" x2="412.2" y2="596.45" stroke="#000" stroke-width="1.7"/>
<line x1="408.2" y1="596.45" x2="416.2" y2="596.45" stroke="#000" stroke-width="1.9"/>
<rect x="400.7" y="599.9" width="23" height="63.9" fill="#000000" stroke="#000" stroke-width="1.6"/>
<polyline points="345,521.5 345,517.2 412.4,517.2 412.4,553.8" fill="none" stroke="#000" stroke-width="1.6" stroke-linejoin="miter" stroke-linecap="butt"/>
<polyline points="345,536.5 345,532.6 390.3,532.6 390.3,553.8" fill="none" stroke="#000" stroke-width="1.6" stroke-linejoin="miter" stroke-linecap="butt"/>
<polyline points="345,558.3 345,550.2 367.8,550.2 367.8,554.5" fill="none" stroke="#000" stroke-width="1.6" stroke-linejoin="miter" stroke-linecap="butt"/>
<polyline points="367.8,569.3 367.8,561.6 401.2,561.6 401.2,577.2" fill="none" stroke="#000" stroke-width="1.6" stroke-linejoin="miter" stroke-linecap="butt"/>
<polyline points="389.6,581.5 389.6,577.2 412.4,577.2 412.4,585.7" fill="none" stroke="#000" stroke-width="1.6" stroke-linejoin="miter" stroke-linecap="butt"/>
<polygon points="370.8,510.65 371.48,511.92 372.89,512.17 371.89,513.21 372.09,514.63 370.8,514 369.51,514.63 369.71,513.21 368.71,512.17 370.12,511.92" fill="#000" stroke="#000" stroke-width="0.6" stroke-linejoin="round"/>
<polygon points="375.65,510.65 376.33,511.92 377.74,512.17 376.74,513.21 376.94,514.63 375.65,514 374.36,514.63 374.56,513.21 373.56,512.17 374.97,511.92" fill="#000" stroke="#000" stroke-width="0.6" stroke-linejoin="round"/>
<polygon points="380.5,510.65 381.18,511.92 382.59,512.17 381.59,513.21 381.79,514.63 380.5,514 379.21,514.63 379.41,513.21 378.41,512.17 379.82,511.92" fill="#000" stroke="#000" stroke-width="0.6" stroke-linejoin="round"/>
<path d="M383.8,512.5h1.1v1.4l-0.9,1.2z" fill="#000"/>
<path d="M387.1,507.8V515M385.1,509.9H389.1" stroke="#000" stroke-width="1.1" fill="none"/>
<polygon points="360,526.05 360.68,527.32 362.09,527.57 361.09,528.61 361.29,530.03 360,529.4 358.71,530.03 358.91,528.61 357.91,527.57 359.32,527.32" fill="#000" stroke="#000" stroke-width="0.6" stroke-linejoin="round"/>
<polygon points="364.85,526.05 365.53,527.32 366.94,527.57 365.94,528.61 366.14,530.03 364.85,529.4 363.56,530.03 363.76,528.61 362.76,527.57 364.17,527.32" fill="#000" stroke="#000" stroke-width="0.6" stroke-linejoin="round"/>
<polygon points="369.7,526.05 370.38,527.32 371.79,527.57 370.79,528.61 370.99,530.03 369.7,529.4 368.41,530.03 368.61,528.61 367.61,527.57 369.02,527.32" fill="#000" stroke="#000" stroke-width="0.6" stroke-linejoin="round"/>
<path d="M373,527.9h1.1v1.4l-0.9,1.2z" fill="#000"/>
<path d="M376.3,523.2V530.4M374.3,525.3H378.3" stroke="#000" stroke-width="1.1" fill="none"/>
<polygon points="348.4,543.85 349.08,545.12 350.49,545.37 349.49,546.41 349.69,547.83 348.4,547.2 347.11,547.83 347.31,546.41 346.31,545.37 347.72,545.12" fill="#000" stroke="#000" stroke-width="0.6" stroke-linejoin="round"/>
<polygon points="353.25,543.85 353.93,545.12 355.34,545.37 354.34,546.41 354.54,547.83 353.25,547.2 351.96,547.83 352.16,546.41 351.16,545.37 352.57,545.12" fill="#000" stroke="#000" stroke-width="0.6" stroke-linejoin="round"/>
<polygon points="358.1,543.85 358.78,545.12 360.19,545.37 359.19,546.41 359.39,547.83 358.1,547.2 356.81,547.83 357.01,546.41 356.01,545.37 357.42,545.12" fill="#000" stroke="#000" stroke-width="0.6" stroke-linejoin="round"/>
<path d="M361.4,545.7h1.1v1.4l-0.9,1.2z" fill="#000"/>
<path d="M364.7,541V548.2M362.7,543.1H366.7" stroke="#000" stroke-width="1.1" fill="none"/>
<polygon points="390.3,570.45 390.98,571.72 392.39,571.97 391.39,573.01 391.59,574.43 390.3,573.8 389.01,574.43 389.21,573.01 388.21,571.97 389.62,571.72" fill="#000" stroke="#000" stroke-width="0.6" stroke-linejoin="round"/>
<polygon points="407.1,570.45 407.78,571.72 409.19,571.97 408.19,573.01 408.39,574.43 407.1,573.8 405.81,574.43 406.01,573.01 405.01,571.97 406.42,571.72" fill="#000" stroke="#000" stroke-width="0.6" stroke-linejoin="round"/>
<polygon points="411.95,570.45 412.63,571.72 414.04,571.97 413.04,573.01 413.24,574.43 411.95,573.8 410.66,574.43 410.86,573.01 409.86,571.97 411.27,571.72" fill="#000" stroke="#000" stroke-width="0.6" stroke-linejoin="round"/>
<polygon points="416.8,570.45 417.48,571.72 418.89,571.97 417.89,573.01 418.09,574.43 416.8,573.8 415.51,574.43 415.71,573.01 414.71,571.97 416.12,571.72" fill="#000" stroke="#000" stroke-width="0.6" stroke-linejoin="round"/>
<path d="M420.1,572.3h1.1v1.4l-0.9,1.2z" fill="#000"/>
<path d="M423.4,567.6V574.8M421.4,569.7H425.4" stroke="#000" stroke-width="1.1" fill="none"/>
<text x="439.1" y="519.6" font-size="20" font-weight="bold" text-anchor="start" fill="#000" stroke="#000" stroke-width="0.5" >K</text>
<line x1="492" y1="527" x2="492" y2="664.6" stroke="#000" stroke-width="1.6"/>
<line x1="491.2" y1="663.8" x2="603.5" y2="663.8" stroke="#000" stroke-width="1.6"/>
<line x1="486" y1="663.8" x2="492" y2="663.8" stroke="#000" stroke-width="1.6"/>
<text x="483.8" y="669.17" font-size="13.8" font-weight="normal" text-anchor="end" fill="#000" stroke="#000" stroke-width="0.5" >0</text>
<line x1="486" y1="641.13" x2="492" y2="641.13" stroke="#000" stroke-width="1.6"/>
<text x="483.8" y="646.5" font-size="13.8" font-weight="normal" text-anchor="end" fill="#000" stroke="#000" stroke-width="0.5" >20</text>
<line x1="486" y1="618.47" x2="492" y2="618.47" stroke="#000" stroke-width="1.6"/>
<text x="483.8" y="623.83" font-size="13.8" font-weight="normal" text-anchor="end" fill="#000" stroke="#000" stroke-width="0.5" >40</text>
<line x1="486" y1="595.8" x2="492" y2="595.8" stroke="#000" stroke-width="1.6"/>
<text x="483.8" y="601.17" font-size="13.8" font-weight="normal" text-anchor="end" fill="#000" stroke="#000" stroke-width="0.5" >60</text>
<line x1="486" y1="573.13" x2="492" y2="573.13" stroke="#000" stroke-width="1.6"/>
<text x="483.8" y="578.5" font-size="13.8" font-weight="normal" text-anchor="end" fill="#000" stroke="#000" stroke-width="0.5" >80</text>
<line x1="486" y1="550.47" x2="492" y2="550.47" stroke="#000" stroke-width="1.6"/>
<text x="483.8" y="555.83" font-size="13.8" font-weight="normal" text-anchor="end" fill="#000" stroke="#000" stroke-width="0.5" >100</text>
<line x1="486" y1="527.8" x2="492" y2="527.8" stroke="#000" stroke-width="1.6"/>
<text x="483.8" y="533.17" font-size="13.8" font-weight="normal" text-anchor="end" fill="#000" stroke="#000" stroke-width="0.5" >120</text>
<text x="0" y="0" font-size="13.6" text-anchor="middle" stroke="#000" stroke-width="0.5" transform="translate(455.67,596) rotate(-90)">Latency to light (sec)</text>
<line x1="514.65" y1="589" x2="514.65" y2="586.95" stroke="#000" stroke-width="1.7"/>
<line x1="510.65" y1="586.95" x2="518.65" y2="586.95" stroke="#000" stroke-width="1.9"/>
<rect x="503.6" y="589" width="22.1" height="74.8" fill="#ffffff" stroke="#000" stroke-width="1.6"/>
<line x1="536.65" y1="589.6" x2="536.65" y2="585.25" stroke="#000" stroke-width="1.7"/>
<line x1="532.65" y1="585.25" x2="540.65" y2="585.25" stroke="#000" stroke-width="1.9"/>
<rect x="525.7" y="589.6" width="21.9" height="74.2" fill="#c3c3c3" stroke="#000" stroke-width="1.6"/>
<line x1="558.8" y1="578.1" x2="558.8" y2="570.15" stroke="#000" stroke-width="1.7"/>
<line x1="554.8" y1="570.15" x2="562.8" y2="570.15" stroke="#000" stroke-width="1.9"/>
<rect x="547.6" y="578.1" width="22.4" height="85.7" fill="#818181" stroke="#000" stroke-width="1.6"/>
<line x1="581.2" y1="559.8" x2="581.2" y2="545.75" stroke="#000" stroke-width="1.7"/>
<line x1="577.2" y1="545.75" x2="585.2" y2="545.75" stroke="#000" stroke-width="1.9"/>
<rect x="570" y="559.8" width="22.4" height="104" fill="#000000" stroke="#000" stroke-width="1.6"/>
<polyline points="514.5,576.4 514.5,530.1 581.5,530.1 581.5,535.9" fill="none" stroke="#000" stroke-width="1.6" stroke-linejoin="miter" stroke-linecap="butt"/>
<polygon points="548,523.85 548.68,525.12 550.09,525.37 549.09,526.41 549.29,527.83 548,527.2 546.71,527.83 546.91,526.41 545.91,525.37 547.32,525.12" fill="#000" stroke="#000" stroke-width="0.6" stroke-linejoin="round"/>
<text x="607.8" y="519.6" font-size="20" font-weight="bold" text-anchor="start" fill="#000" stroke="#000" stroke-width="0.5" >L</text>
<line x1="666.3" y1="527" x2="666.3" y2="664.6" stroke="#000" stroke-width="1.6"/>
<line x1="665.5" y1="663.8" x2="775" y2="663.8" stroke="#000" stroke-width="1.6"/>
<line x1="660.3" y1="663.8" x2="666.3" y2="663.8" stroke="#000" stroke-width="1.6"/>
<text x="657.6" y="669.17" font-size="13.8" font-weight="normal" text-anchor="end" fill="#000" stroke="#000" stroke-width="0.5" >0</text>
<line x1="660.3" y1="636.6" x2="666.3" y2="636.6" stroke="#000" stroke-width="1.6"/>
<text x="657.6" y="641.97" font-size="13.8" font-weight="normal" text-anchor="end" fill="#000" stroke="#000" stroke-width="0.5" >50</text>
<line x1="660.3" y1="609.4" x2="666.3" y2="609.4" stroke="#000" stroke-width="1.6"/>
<text x="657.6" y="614.77" font-size="13.8" font-weight="normal" text-anchor="end" fill="#000" stroke="#000" stroke-width="0.5" >100</text>
<line x1="660.3" y1="582.2" x2="666.3" y2="582.2" stroke="#000" stroke-width="1.6"/>
<text x="657.6" y="587.57" font-size="13.8" font-weight="normal" text-anchor="end" fill="#000" stroke="#000" stroke-width="0.5" >150</text>
<line x1="660.3" y1="555" x2="666.3" y2="555" stroke="#000" stroke-width="1.6"/>
<text x="657.6" y="560.37" font-size="13.8" font-weight="normal" text-anchor="end" fill="#000" stroke="#000" stroke-width="0.5" >200</text>
<line x1="660.3" y1="527.8" x2="666.3" y2="527.8" stroke="#000" stroke-width="1.6"/>
<text x="657.6" y="533.17" font-size="13.8" font-weight="normal" text-anchor="end" fill="#000" stroke="#000" stroke-width="0.5" >250</text>
<text x="0" y="0" font-size="13.6" text-anchor="middle" stroke="#000" stroke-width="0.5" transform="translate(624.77,595.5) rotate(-90)">Stay time in light (sec)</text>
<line x1="688.75" y1="553.4" x2="688.75" y2="552.55" stroke="#000" stroke-width="1.7"/>
<line x1="684.75" y1="552.55" x2="692.75" y2="552.55" stroke="#000" stroke-width="1.9"/>
<rect x="677.9" y="553.4" width="21.7" height="110.4" fill="#ffffff" stroke="#000" stroke-width="1.6"/>
<line x1="711" y1="555.6" x2="711" y2="553.85" stroke="#000" stroke-width="1.7"/>
<line x1="707" y1="553.85" x2="715" y2="553.85" stroke="#000" stroke-width="1.9"/>
<rect x="699.6" y="555.6" width="22.8" height="108.2" fill="#c3c3c3" stroke="#000" stroke-width="1.6"/>
<line x1="733.3" y1="563.9" x2="733.3" y2="560.65" stroke="#000" stroke-width="1.7"/>
<line x1="729.3" y1="560.65" x2="737.3" y2="560.65" stroke="#000" stroke-width="1.9"/>
<rect x="722.4" y="563.9" width="21.8" height="99.9" fill="#818181" stroke="#000" stroke-width="1.6"/>
<line x1="755.4" y1="574" x2="755.4" y2="569.45" stroke="#000" stroke-width="1.7"/>
<line x1="751.4" y1="569.45" x2="759.4" y2="569.45" stroke="#000" stroke-width="1.9"/>
<rect x="744.2" y="574" width="22.4" height="89.8" fill="#000000" stroke="#000" stroke-width="1.6"/>
<polyline points="688.6,540.9 688.6,517.2 744,517.2 744,528" fill="none" stroke="#000" stroke-width="1.6" stroke-linejoin="miter" stroke-linecap="butt"/>
<polyline points="732.7,532.1 732.7,528 755.3,528 755.3,532.1" fill="none" stroke="#000" stroke-width="1.6" stroke-linejoin="miter" stroke-linecap="butt"/>
<polyline points="710.5,547.8 710.5,544.3 755.3,544.3 755.3,559.8" fill="none" stroke="#000" stroke-width="1.6" stroke-linejoin="miter" stroke-linecap="butt"/>
<polygon points="733.2,521.55 733.88,522.82 735.29,523.07 734.29,524.11 734.49,525.53 733.2,524.9 731.91,525.53 732.11,524.11 731.11,523.07 732.52,522.82" fill="#000" stroke="#000" stroke-width="0.6" stroke-linejoin="round"/>
<polygon points="751.1,521.55 751.78,522.82 753.19,523.07 752.19,524.11 752.39,525.53 751.1,524.9 749.81,525.53 750.01,524.11 749.01,523.07 750.42,522.82" fill="#000" stroke="#000" stroke-width="0.6" stroke-linejoin="round"/>
<polygon points="755.95,521.55 756.63,522.82 758.04,523.07 757.04,524.11 757.24,525.53 755.95,524.9 754.66,525.53 754.86,524.11 753.86,523.07 755.27,522.82" fill="#000" stroke="#000" stroke-width="0.6" stroke-linejoin="round"/>
<polygon points="760.8,521.55 761.48,522.82 762.89,523.07 761.89,524.11 762.09,525.53 760.8,524.9 759.51,525.53 759.71,524.11 758.71,523.07 760.12,522.82" fill="#000" stroke="#000" stroke-width="0.6" stroke-linejoin="round"/>
<path d="M764.1,523.4h1.1v1.4l-0.9,1.2z" fill="#000"/>
<path d="M767.4,518.7V525.9M765.4,520.8H769.4" stroke="#000" stroke-width="1.1" fill="none"/>
<polygon points="722.7,536.95 723.38,538.22 724.79,538.47 723.79,539.51 723.99,540.93 722.7,540.3 721.41,540.93 721.61,539.51 720.61,538.47 722.02,538.22" fill="#000" stroke="#000" stroke-width="0.6" stroke-linejoin="round"/>
<polygon points="727.55,536.95 728.23,538.22 729.64,538.47 728.64,539.51 728.84,540.93 727.55,540.3 726.26,540.93 726.46,539.51 725.46,538.47 726.87,538.22" fill="#000" stroke="#000" stroke-width="0.6" stroke-linejoin="round"/>
<polygon points="732.4,536.95 733.08,538.22 734.49,538.47 733.49,539.51 733.69,540.93 732.4,540.3 731.11,540.93 731.31,539.51 730.31,538.47 731.72,538.22" fill="#000" stroke="#000" stroke-width="0.6" stroke-linejoin="round"/>
<path d="M735.7,538.8h1.1v1.4l-0.9,1.2z" fill="#000"/>
<path d="M739,534.1V541.3M737,536.2H741" stroke="#000" stroke-width="1.1" fill="none"/>
<text x="9.5" y="774" font-size="20" font-weight="bold" text-anchor="start" fill="#000" stroke="#000" stroke-width="0.5" >M</text>
<line x1="74.6" y1="782.3" x2="74.6" y2="920.3" stroke="#000" stroke-width="1.6"/>
<line x1="73.8" y1="919.5" x2="185.1" y2="919.5" stroke="#000" stroke-width="1.6"/>
<line x1="68.6" y1="919.5" x2="74.6" y2="919.5" stroke="#000" stroke-width="1.6"/>
<text x="64.6" y="924.87" font-size="13.8" font-weight="normal" text-anchor="end" fill="#000" stroke="#000" stroke-width="0.5" >0</text>
<line x1="68.6" y1="885.4" x2="74.6" y2="885.4" stroke="#000" stroke-width="1.6"/>
<text x="64.6" y="890.77" font-size="13.8" font-weight="normal" text-anchor="end" fill="#000" stroke="#000" stroke-width="0.5" >500</text>
<line x1="68.6" y1="851.3" x2="74.6" y2="851.3" stroke="#000" stroke-width="1.6"/>
<text x="64.6" y="856.67" font-size="13.8" font-weight="normal" text-anchor="end" fill="#000" stroke="#000" stroke-width="0.5" >1000</text>
<line x1="68.6" y1="817.2" x2="74.6" y2="817.2" stroke="#000" stroke-width="1.6"/>
<text x="64.6" y="822.57" font-size="13.8" font-weight="normal" text-anchor="end" fill="#000" stroke="#000" stroke-width="0.5" >1500</text>
<line x1="68.6" y1="783.1" x2="74.6" y2="783.1" stroke="#000" stroke-width="1.6"/>
<text x="64.6" y="788.47" font-size="13.8" font-weight="normal" text-anchor="end" fill="#000" stroke="#000" stroke-width="0.5" >2000</text>
<text x="0" y="0" font-size="13.6" text-anchor="middle" stroke="#000" stroke-width="0.5" transform="translate(28.07,848.5) rotate(-90)">Distance traveled (cm)</text>
<line x1="96.85" y1="808.9" x2="96.85" y2="808.15" stroke="#000" stroke-width="1.7"/>
<line x1="92.85" y1="808.15" x2="100.85" y2="808.15" stroke="#000" stroke-width="1.9"/>
<rect x="86" y="808.9" width="21.7" height="110.6" fill="#ffffff" stroke="#000" stroke-width="1.6"/>
<line x1="118.95" y1="819.2" x2="118.95" y2="817.15" stroke="#000" stroke-width="1.7"/>
<line x1="114.95" y1="817.15" x2="122.95" y2="817.15" stroke="#000" stroke-width="1.9"/>
<rect x="107.7" y="819.2" width="22.5" height="100.3" fill="#c3c3c3" stroke="#000" stroke-width="1.6"/>
<line x1="141.1" y1="822.5" x2="141.1" y2="819.95" stroke="#000" stroke-width="1.7"/>
<line x1="137.1" y1="819.95" x2="145.1" y2="819.95" stroke="#000" stroke-width="1.9"/>
<rect x="130.2" y="822.5" width="21.8" height="97" fill="#818181" stroke="#000" stroke-width="1.6"/>
<line x1="163.2" y1="820" x2="163.2" y2="816.15" stroke="#000" stroke-width="1.7"/>
<line x1="159.2" y1="816.15" x2="167.2" y2="816.15" stroke="#000" stroke-width="1.9"/>
<rect x="152" y="820" width="22.4" height="99.5" fill="#000000" stroke="#000" stroke-width="1.6"/>
<polyline points="96.2,772.4 96.2,768.3 163.7,768.3 163.7,804.5" fill="none" stroke="#000" stroke-width="1.6" stroke-linejoin="miter" stroke-linecap="butt"/>
<polyline points="96.2,786.2 96.2,782.5 141.1,782.5 141.1,805" fill="none" stroke="#000" stroke-width="1.6" stroke-linejoin="miter" stroke-linecap="butt"/>
<polyline points="96.2,801.3 96.2,797.6 118.8,797.6 118.8,805" fill="none" stroke="#000" stroke-width="1.6" stroke-linejoin="miter" stroke-linecap="butt"/>
<polygon points="130.1,761.25 130.78,762.52 132.19,762.77 131.19,763.81 131.39,765.23 130.1,764.6 128.81,765.23 129.01,763.81 128.01,762.77 129.42,762.52" fill="#000" stroke="#000" stroke-width="0.6" stroke-linejoin="round"/>
<polygon points="106.2,775.55 106.88,776.82 108.29,777.07 107.29,778.11 107.49,779.53 106.2,778.9 104.91,779.53 105.11,778.11 104.11,777.07 105.52,776.82" fill="#000" stroke="#000" stroke-width="0.6" stroke-linejoin="round"/>
<polygon points="111.05,775.55 111.73,776.82 113.14,777.07 112.14,778.11 112.34,779.53 111.05,778.9 109.76,779.53 109.96,778.11 108.96,777.07 110.37,776.82" fill="#000" stroke="#000" stroke-width="0.6" stroke-linejoin="round"/>
<polygon points="115.9,775.55 116.58,776.82 117.99,777.07 116.99,778.11 117.19,779.53 115.9,778.9 114.61,779.53 114.81,778.11 113.81,777.07 115.22,776.82" fill="#000" stroke="#000" stroke-width="0.6" stroke-linejoin="round"/>
<path d="M119.2,777.4h1.1v1.4l-0.9,1.2z" fill="#000"/>
<path d="M122.5,772.7V779.9M120.5,774.8H124.5" stroke="#000" stroke-width="1.1" fill="none"/>
<path d="M127,772.7V779.9M125,774.8H129" stroke="#000" stroke-width="1.1" fill="none"/>
<path d="M131.5,772.7V779.9M129.5,774.8H133.5" stroke="#000" stroke-width="1.1" fill="none"/>
<polygon points="95.4,790.55 96.08,791.82 97.49,792.07 96.49,793.11 96.69,794.53 95.4,793.9 94.11,794.53 94.31,793.11 93.31,792.07 94.72,791.82" fill="#000" stroke="#000" stroke-width="0.6" stroke-linejoin="round"/>
<polygon points="100.25,790.55 100.93,791.82 102.34,792.07 101.34,793.11 101.54,794.53 100.25,793.9 98.96,794.53 99.16,793.11 98.16,792.07 99.57,791.82" fill="#000" stroke="#000" stroke-width="0.6" stroke-linejoin="round"/>
<polygon points="105.1,790.55 105.78,791.82 107.19,792.07 106.19,793.11 106.39,794.53 105.1,793.9 103.81,794.53 104.01,793.11 103.01,792.07 104.42,791.82" fill="#000" stroke="#000" stroke-width="0.6" stroke-linejoin="round"/>
<path d="M108.4,792.4h1.1v1.4l-0.9,1.2z" fill="#000"/>
<path d="M111.7,787.7V794.9M109.7,789.8H113.7" stroke="#000" stroke-width="1.1" fill="none"/>
<path d="M116.2,787.7V794.9M114.2,789.8H118.2" stroke="#000" stroke-width="1.1" fill="none"/>
<path d="M120.7,787.7V794.9M118.7,789.8H122.7" stroke="#000" stroke-width="1.1" fill="none"/>
<text x="181.8" y="775" font-size="20" font-weight="bold" text-anchor="start" fill="#000" stroke="#000" stroke-width="0.5" >N</text>
<line x1="242.2" y1="782.3" x2="242.2" y2="920.3" stroke="#000" stroke-width="1.6"/>
<line x1="241.4" y1="919.5" x2="353.5" y2="919.5" stroke="#000" stroke-width="1.6"/>
<line x1="236.2" y1="919.5" x2="242.2" y2="919.5" stroke="#000" stroke-width="1.6"/>
<text x="233.7" y="924.87" font-size="13.8" font-weight="normal" text-anchor="end" fill="#000" stroke="#000" stroke-width="0.5" >0</text>
<line x1="236.2" y1="885.4" x2="242.2" y2="885.4" stroke="#000" stroke-width="1.6"/>
<text x="233.7" y="890.77" font-size="13.8" font-weight="normal" text-anchor="end" fill="#000" stroke="#000" stroke-width="0.5" >10</text>
<line x1="236.2" y1="851.3" x2="242.2" y2="851.3" stroke="#000" stroke-width="1.6"/>
<text x="233.7" y="856.67" font-size="13.8" font-weight="normal" text-anchor="end" fill="#000" stroke="#000" stroke-width="0.5" >20</text>
<line x1="236.2" y1="817.2" x2="242.2" y2="817.2" stroke="#000" stroke-width="1.6"/>
<text x="233.7" y="822.57" font-size="13.8" font-weight="normal" text-anchor="end" fill="#000" stroke="#000" stroke-width="0.5" >30</text>
<line x1="236.2" y1="783.1" x2="242.2" y2="783.1" stroke="#000" stroke-width="1.6"/>
<text x="233.7" y="788.47" font-size="13.8" font-weight="normal" text-anchor="end" fill="#000" stroke="#000" stroke-width="0.5" >40</text>
<text x="0" y="0" font-size="13.6" text-anchor="middle" stroke="#000" stroke-width="0.5" transform="translate(212.57,849.4) rotate(-90)">Number of entries</text>
<line x1="264.85" y1="802.6" x2="264.85" y2="800.95" stroke="#000" stroke-width="1.7"/>
<line x1="260.85" y1="800.95" x2="268.85" y2="800.95" stroke="#000" stroke-width="1.9"/>
<rect x="254" y="802.6" width="21.7" height="116.9" fill="#ffffff" stroke="#000" stroke-width="1.6"/>
<line x1="286.95" y1="815.5" x2="286.95" y2="813.05" stroke="#000" stroke-width="1.7"/>
<line x1="282.95" y1="813.05" x2="290.95" y2="813.05" stroke="#000" stroke-width="1.9"/>
<rect x="275.7" y="815.5" width="22.5" height="104" fill="#c3c3c3" stroke="#000" stroke-width="1.6"/>
<line x1="308.8" y1="823.6" x2="308.8" y2="820.25" stroke="#000" stroke-width="1.7"/>
<line x1="304.8" y1="820.25" x2="312.8" y2="820.25" stroke="#000" stroke-width="1.9"/>
<rect x="298.2" y="823.6" width="21.2" height="95.9" fill="#818181" stroke="#000" stroke-width="1.6"/>
<line x1="330.9" y1="821.4" x2="330.9" y2="817.05" stroke="#000" stroke-width="1.7"/>
<line x1="326.9" y1="817.05" x2="334.9" y2="817.05" stroke="#000" stroke-width="1.9"/>
<rect x="319.4" y="821.4" width="23" height="98.1" fill="#000000" stroke="#000" stroke-width="1.6"/>
<polyline points="264.3,764 264.3,759.8 331.1,759.8 331.1,801.8" fill="none" stroke="#000" stroke-width="1.6" stroke-linejoin="miter" stroke-linecap="butt"/>
<polyline points="264.3,778.3 264.3,774.4 309,774.4 309,801.8" fill="none" stroke="#000" stroke-width="1.6" stroke-linejoin="miter" stroke-linecap="butt"/>
<polyline points="264.3,793.1 264.3,789.1 286.8,789.1 286.8,802.4" fill="none" stroke="#000" stroke-width="1.6" stroke-linejoin="miter" stroke-linecap="butt"/>
<polygon points="293.35,753.15 294.03,754.42 295.44,754.67 294.44,755.71 294.64,757.13 293.35,756.5 292.06,757.13 292.26,755.71 291.26,754.67 292.67,754.42" fill="#000" stroke="#000" stroke-width="0.6" stroke-linejoin="round"/>
<polygon points="298.2,753.15 298.88,754.42 300.29,754.67 299.29,755.71 299.49,757.13 298.2,756.5 296.91,757.13 297.11,755.71 296.11,754.67 297.52,754.42" fill="#000" stroke="#000" stroke-width="0.6" stroke-linejoin="round"/>
<polygon points="303.05,753.15 303.73,754.42 305.14,754.67 304.14,755.71 304.34,757.13 303.05,756.5 301.76,757.13 301.96,755.71 300.96,754.67 302.37,754.42" fill="#000" stroke="#000" stroke-width="0.6" stroke-linejoin="round"/>
<polygon points="274.5,767.65 275.18,768.92 276.59,769.17 275.59,770.21 275.79,771.63 274.5,771 273.21,771.63 273.41,770.21 272.41,769.17 273.82,768.92" fill="#000" stroke="#000" stroke-width="0.6" stroke-linejoin="round"/>
<polygon points="279.35,767.65 280.03,768.92 281.44,769.17 280.44,770.21 280.64,771.63 279.35,771 278.06,771.63 278.26,770.21 277.26,769.17 278.67,768.92" fill="#000" stroke="#000" stroke-width="0.6" stroke-linejoin="round"/>
<polygon points="284.2,767.65 284.88,768.92 286.29,769.17 285.29,770.21 285.49,771.63 284.2,771 282.91,771.63 283.11,770.21 282.11,769.17 283.52,768.92" fill="#000" stroke="#000" stroke-width="0.6" stroke-linejoin="round"/>
<path d="M287.5,769.5h1.1v1.4l-0.9,1.2z" fill="#000"/>
<path d="M290.8,764.8V772M288.8,766.9H292.8" stroke="#000" stroke-width="1.1" fill="none"/>
<path d="M295.3,764.8V772M293.3,766.9H297.3" stroke="#000" stroke-width="1.1" fill="none"/>
<path d="M299.8,764.8V772M297.8,766.9H301.8" stroke="#000" stroke-width="1.1" fill="none"/>
<polygon points="262.9,782.05 263.58,783.32 264.99,783.57 263.99,784.61 264.19,786.03 262.9,785.4 261.61,786.03 261.81,784.61 260.81,783.57 262.22,783.32" fill="#000" stroke="#000" stroke-width="0.6" stroke-linejoin="round"/>
<polygon points="267.75,782.05 268.43,783.32 269.84,783.57 268.84,784.61 269.04,786.03 267.75,785.4 266.46,786.03 266.66,784.61 265.66,783.57 267.07,783.32" fill="#000" stroke="#000" stroke-width="0.6" stroke-linejoin="round"/>
<polygon points="272.6,782.05 273.28,783.32 274.69,783.57 273.69,784.61 273.89,786.03 272.6,785.4 271.31,786.03 271.51,784.61 270.51,783.57 271.92,783.32" fill="#000" stroke="#000" stroke-width="0.6" stroke-linejoin="round"/>
<path d="M275.9,783.9h1.1v1.4l-0.9,1.2z" fill="#000"/>
<path d="M279.2,779.2V786.4M277.2,781.3H281.2" stroke="#000" stroke-width="1.1" fill="none"/>
<path d="M283.7,779.2V786.4M281.7,781.3H285.7" stroke="#000" stroke-width="1.1" fill="none"/>
<path d="M288.2,779.2V786.4M286.2,781.3H290.2" stroke="#000" stroke-width="1.1" fill="none"/>
<text x="352.2" y="772.5" font-size="20" font-weight="bold" text-anchor="start" fill="#000" stroke="#000" stroke-width="0.5" >O</text>
<line x1="411.3" y1="782.3" x2="411.3" y2="920.3" stroke="#000" stroke-width="1.6"/>
<line x1="410.5" y1="919.5" x2="522.5" y2="919.5" stroke="#000" stroke-width="1.6"/>
<line x1="405.3" y1="919.5" x2="411.3" y2="919.5" stroke="#000" stroke-width="1.6"/>
<text x="401.2" y="924.87" font-size="13.8" font-weight="normal" text-anchor="end" fill="#000" stroke="#000" stroke-width="0.5" >0</text>
<line x1="405.3" y1="900.01" x2="411.3" y2="900.01" stroke="#000" stroke-width="1.6"/>
<text x="401.2" y="905.38" font-size="13.8" font-weight="normal" text-anchor="end" fill="#000" stroke="#000" stroke-width="0.5" >5</text>
<line x1="405.3" y1="880.53" x2="411.3" y2="880.53" stroke="#000" stroke-width="1.6"/>
<text x="401.2" y="885.9" font-size="13.8" font-weight="normal" text-anchor="end" fill="#000" stroke="#000" stroke-width="0.5" >10</text>
<line x1="405.3" y1="861.04" x2="411.3" y2="861.04" stroke="#000" stroke-width="1.6"/>
<text x="401.2" y="866.41" font-size="13.8" font-weight="normal" text-anchor="end" fill="#000" stroke="#000" stroke-width="0.5" >15</text>
<line x1="405.3" y1="841.56" x2="411.3" y2="841.56" stroke="#000" stroke-width="1.6"/>
<text x="401.2" y="846.93" font-size="13.8" font-weight="normal" text-anchor="end" fill="#000" stroke="#000" stroke-width="0.5" >20</text>
<line x1="405.3" y1="822.07" x2="411.3" y2="822.07" stroke="#000" stroke-width="1.6"/>
<text x="401.2" y="827.44" font-size="13.8" font-weight="normal" text-anchor="end" fill="#000" stroke="#000" stroke-width="0.5" >25</text>
<line x1="405.3" y1="802.59" x2="411.3" y2="802.59" stroke="#000" stroke-width="1.6"/>
<text x="401.2" y="807.95" font-size="13.8" font-weight="normal" text-anchor="end" fill="#000" stroke="#000" stroke-width="0.5" >30</text>
<line x1="405.3" y1="783.1" x2="411.3" y2="783.1" stroke="#000" stroke-width="1.6"/>
<text x="401.2" y="788.47" font-size="13.8" font-weight="normal" text-anchor="end" fill="#000" stroke="#000" stroke-width="0.5" >35</text>
<text x="0" y="0" font-size="13.6" text-anchor="middle" stroke="#000" stroke-width="0.5" transform="translate(380.17,847.9) rotate(-90)">Entries into open arms (%)</text>
<line x1="433.95" y1="831.7" x2="433.95" y2="830.15" stroke="#000" stroke-width="1.7"/>
<line x1="429.95" y1="830.15" x2="437.95" y2="830.15" stroke="#000" stroke-width="1.9"/>
<rect x="422.7" y="831.7" width="22.5" height="87.8" fill="#ffffff" stroke="#000" stroke-width="1.6"/>
<line x1="456" y1="837.1" x2="456" y2="834.25" stroke="#000" stroke-width="1.7"/>
<line x1="452" y1="834.25" x2="460" y2="834.25" stroke="#000" stroke-width="1.9"/>
<rect x="445.2" y="837.1" width="21.6" height="82.4" fill="#c3c3c3" stroke="#000" stroke-width="1.6"/>
<line x1="477.95" y1="821.3" x2="477.95" y2="816.65" stroke="#000" stroke-width="1.7"/>
<line x1="473.95" y1="816.65" x2="481.95" y2="816.65" stroke="#000" stroke-width="1.9"/>
<rect x="466.8" y="821.3" width="22.3" height="98.2" fill="#818181" stroke="#000" stroke-width="1.6"/>
<line x1="500.4" y1="806.9" x2="500.4" y2="798.65" stroke="#000" stroke-width="1.7"/>
<line x1="496.4" y1="798.65" x2="504.4" y2="798.65" stroke="#000" stroke-width="1.9"/>
<rect x="489.1" y="806.9" width="22.6" height="112.6" fill="#000000" stroke="#000" stroke-width="1.6"/>
<polyline points="433.2,818 433.2,769.8 500.7,769.8 500.7,774.9" fill="none" stroke="#000" stroke-width="1.6" stroke-linejoin="miter" stroke-linecap="butt"/>
<polyline points="455.7,822.5 455.7,778.8 489.2,778.8 489.2,789.4" fill="none" stroke="#000" stroke-width="1.6" stroke-linejoin="miter" stroke-linecap="butt"/>
<polyline points="477.8,806.2 477.8,789.4 500.7,789.4 500.7,793.3" fill="none" stroke="#000" stroke-width="1.6" stroke-linejoin="miter" stroke-linecap="butt"/>
<polygon points="464.88,763.25 465.55,764.52 466.97,764.77 465.97,765.81 466.17,767.23 464.88,766.6 463.58,767.23 463.78,765.81 462.78,764.77 464.2,764.52" fill="#000" stroke="#000" stroke-width="0.6" stroke-linejoin="round"/>
<polygon points="469.73,763.25 470.4,764.52 471.82,764.77 470.82,765.81 471.02,767.23 469.73,766.6 468.43,767.23 468.63,765.81 467.63,764.77 469.05,764.52" fill="#000" stroke="#000" stroke-width="0.6" stroke-linejoin="round"/>
<polygon points="478.5,782.75 479.18,784.02 480.59,784.27 479.59,785.31 479.79,786.73 478.5,786.1 477.21,786.73 477.41,785.31 476.41,784.27 477.82,784.02" fill="#000" stroke="#000" stroke-width="0.6" stroke-linejoin="round"/>
<polygon points="494.7,782.75 495.38,784.02 496.79,784.27 495.79,785.31 495.99,786.73 494.7,786.1 493.41,786.73 493.61,785.31 492.61,784.27 494.02,784.02" fill="#000" stroke="#000" stroke-width="0.6" stroke-linejoin="round"/>
<polygon points="499.55,782.75 500.23,784.02 501.64,784.27 500.64,785.31 500.84,786.73 499.55,786.1 498.26,786.73 498.46,785.31 497.46,784.27 498.87,784.02" fill="#000" stroke="#000" stroke-width="0.6" stroke-linejoin="round"/>
<polygon points="504.4,782.75 505.08,784.02 506.49,784.27 505.49,785.31 505.69,786.73 504.4,786.1 503.11,786.73 503.31,785.31 502.31,784.27 503.72,784.02" fill="#000" stroke="#000" stroke-width="0.6" stroke-linejoin="round"/>
<path d="M507.7,784.6h1.1v1.4l-0.9,1.2z" fill="#000"/>
<path d="M511,779.9V787.1M509,782H513" stroke="#000" stroke-width="1.1" fill="none"/>
<text x="522" y="772.5" font-size="20" font-weight="bold" text-anchor="start" fill="#000" stroke="#000" stroke-width="0.5" >P</text>
<line x1="585.8" y1="782.3" x2="585.8" y2="920.3" stroke="#000" stroke-width="1.6"/>
<line x1="585" y1="919.5" x2="696.9" y2="919.5" stroke="#000" stroke-width="1.6"/>
<line x1="579.8" y1="919.5" x2="585.8" y2="919.5" stroke="#000" stroke-width="1.6"/>
<text x="577.3" y="924.87" font-size="13.8" font-weight="normal" text-anchor="end" fill="#000" stroke="#000" stroke-width="0.5" >0</text>
<line x1="579.8" y1="874.03" x2="585.8" y2="874.03" stroke="#000" stroke-width="1.6"/>
<text x="577.3" y="879.4" font-size="13.8" font-weight="normal" text-anchor="end" fill="#000" stroke="#000" stroke-width="0.5" >5</text>
<line x1="579.8" y1="828.57" x2="585.8" y2="828.57" stroke="#000" stroke-width="1.6"/>
<text x="577.3" y="833.93" font-size="13.8" font-weight="normal" text-anchor="end" fill="#000" stroke="#000" stroke-width="0.5" >10</text>
<line x1="579.8" y1="783.1" x2="585.8" y2="783.1" stroke="#000" stroke-width="1.6"/>
<text x="577.3" y="788.47" font-size="13.8" font-weight="normal" text-anchor="end" fill="#000" stroke="#000" stroke-width="0.5" >15</text>
<text x="0" y="0" font-size="13.6" text-anchor="middle" stroke="#000" stroke-width="0.5" transform="translate(557.07,848.9) rotate(-90)">Time on open arms (%)</text>
<line x1="608.65" y1="840.8" x2="608.65" y2="837.45" stroke="#000" stroke-width="1.7"/>
<line x1="604.65" y1="837.45" x2="612.65" y2="837.45" stroke="#000" stroke-width="1.9"/>
<rect x="597.7" y="840.8" width="21.9" height="78.7" fill="#ffffff" stroke="#000" stroke-width="1.6"/>
<line x1="630.4" y1="858.8" x2="630.4" y2="854.75" stroke="#000" stroke-width="1.7"/>
<line x1="626.4" y1="854.75" x2="634.4" y2="854.75" stroke="#000" stroke-width="1.9"/>
<rect x="619.6" y="858.8" width="21.6" height="60.7" fill="#c3c3c3" stroke="#000" stroke-width="1.6"/>
<line x1="652.45" y1="840.2" x2="652.45" y2="834.25" stroke="#000" stroke-width="1.7"/>
<line x1="648.45" y1="834.25" x2="656.45" y2="834.25" stroke="#000" stroke-width="1.9"/>
<rect x="641.2" y="840.2" width="22.5" height="79.3" fill="#818181" stroke="#000" stroke-width="1.6"/>
<line x1="675.15" y1="825.3" x2="675.15" y2="812.65" stroke="#000" stroke-width="1.7"/>
<line x1="671.15" y1="812.65" x2="679.15" y2="812.65" stroke="#000" stroke-width="1.9"/>
<rect x="663.7" y="825.3" width="22.9" height="94.2" fill="#000000" stroke="#000" stroke-width="1.6"/>
<polyline points="607.9,829.7 607.9,823.8 631.4,823.8 631.4,844.3" fill="none" stroke="#000" stroke-width="1.6" stroke-linejoin="miter" stroke-linecap="butt"/>
<polyline points="630.6,813.6 630.6,800.3 675.5,800.3 675.5,804.3" fill="none" stroke="#000" stroke-width="1.6" stroke-linejoin="miter" stroke-linecap="butt"/>
<polygon points="619.4,816.95 620.08,818.22 621.49,818.47 620.49,819.51 620.69,820.93 619.4,820.3 618.11,820.93 618.31,819.51 617.31,818.47 618.72,818.22" fill="#000" stroke="#000" stroke-width="0.6" stroke-linejoin="round"/>
<polygon points="653.4,793.35 654.08,794.62 655.49,794.87 654.49,795.91 654.69,797.33 653.4,796.7 652.11,797.33 652.31,795.91 651.31,794.87 652.72,794.62" fill="#000" stroke="#000" stroke-width="0.6" stroke-linejoin="round"/>
</svg></body></html>
